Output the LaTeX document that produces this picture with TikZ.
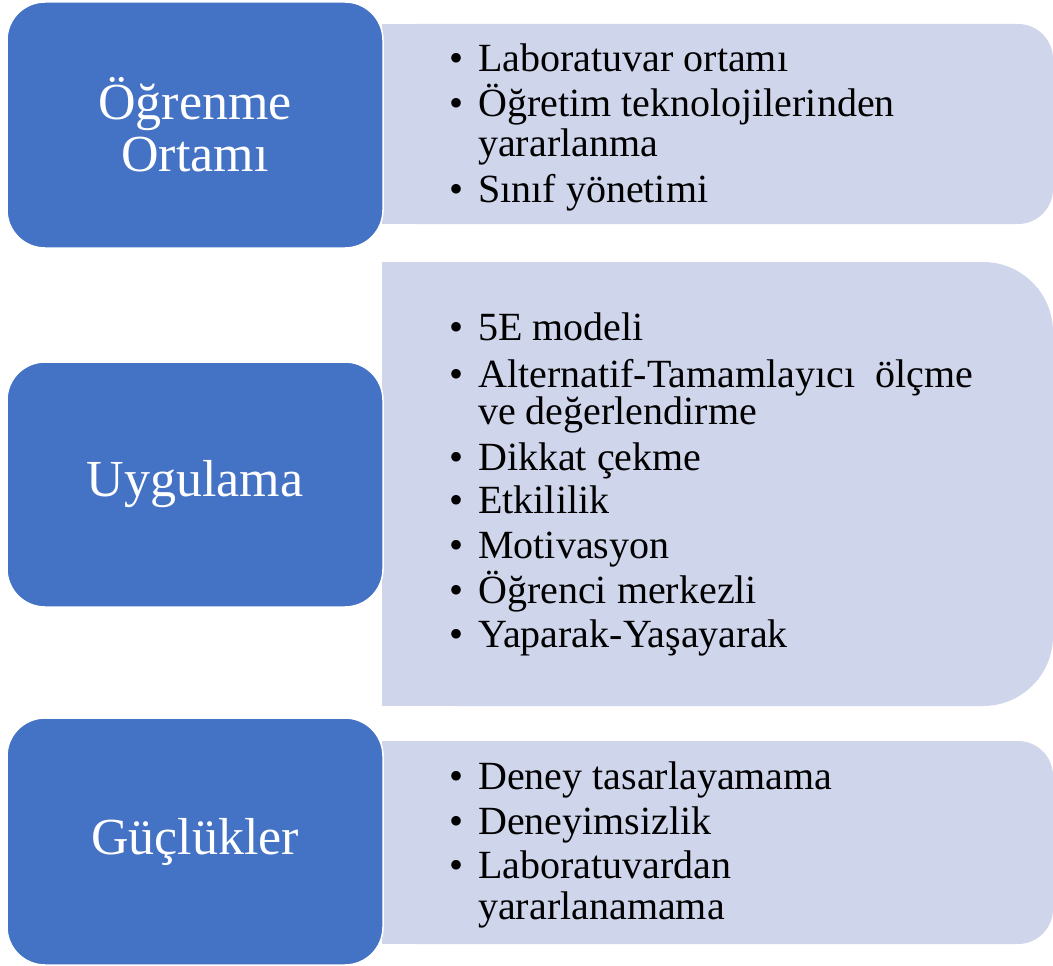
\documentclass[tikz,border=0pt]{standalone}
\usepackage{fontspec}
\setmainfont{Liberation Serif}
\definecolor{boxblue}{HTML}{4472C4}
\definecolor{boxgray}{HTML}{CFD5EA}
\tikzset{
  headbox/.style={fill=boxblue, draw=white, line width=1.5pt, rounded corners=38pt,
    minimum width=376pt, text=white, align=center, inner sep=0pt,
    font=\fontsize{52}{52}\selectfont},
  itemline/.style={anchor=base west, inner sep=0pt, text=black,
    font=\fontsize{40}{40}\selectfont},
  bul/.style={anchor=base west, inner sep=0pt, text=black,
    font=\fontsize{40}{40}\selectfont}
}
\begin{document}
\begin{tikzpicture}[x=1pt,y=-1pt]
\useasboundingbox (0,0) rectangle (1053,966);
% gray panels (square left side, rounded right side)
\fill[boxgray, rounded corners=35pt] (382,24) rectangle (1053,224);
\fill[boxgray] (382,24) rectangle (500,224);
\fill[boxgray, rounded corners=70pt] (382,262) rectangle (1053,706);
\fill[boxgray] (382,262) rectangle (500,706);
\fill[boxgray, rounded corners=35pt] (382,741) rectangle (1053,944);
\fill[boxgray] (382,741) rectangle (500,944);
% blue heads
\node[headbox, minimum height=246pt] (h1) at (195,125) {Öğrenme\\Ortamı};
\node[headbox, minimum height=245pt] (h2) at (195,484.5) {Uygulama};
\node[headbox, minimum height=247pt] (h3) at (195,841.5) {Güçlükler};
% items panel 1
\node[bul] (b1a) at (449,72) {•};
\node[itemline] (t1a) at (478,72) {Laboratuvar ortamı};
\node[bul] (b1b) at (449,117) {•};
\node[itemline] (t1b) at (478,117) {Öğretim teknolojilerinden};
\node[itemline] (t1c) at (478,157) {yararlanma};
\node[bul] (b1d) at (449,202) {•};
\node[itemline] (t1d) at (478,202) {Sınıf yönetimi};
% items panel 2
\node[bul] (b2a) at (449,340) {•};
\node[itemline] (t2a) at (478,340) {5E modeli};
\node[bul] (b2b) at (449,387) {•};
\node[itemline] (t2b) at (478,387) {Alternatif-Tamamlayıcı\ \ ölçme};
\node[itemline] (t2c) at (478,424) {ve değerlendirme};
\node[bul] (b2d) at (449,470) {•};
\node[itemline] (t2d) at (478,470) {Dikkat çekme};
\node[bul] (b2e) at (449,513) {•};
\node[itemline] (t2e) at (478,513) {Etkililik};
\node[bul] (b2f) at (449,558) {•};
\node[itemline] (t2f) at (478,558) {Motivasyon};
\node[bul] (b2g) at (449,603) {•};
\node[itemline] (t2g) at (478,603) {Öğrenci merkezli};
\node[bul] (b2h) at (449,647) {•};
\node[itemline] (t2h) at (478,647) {Yaparak-Yaşayarak};
% items panel 3
\node[bul] (b3a) at (449,789) {•};
\node[itemline] (t3a) at (478,789) {Deney tasarlayamama};
\node[bul] (b3b) at (449,834) {•};
\node[itemline] (t3b) at (478,834) {Deneyimsizlik};
\node[bul] (b3c) at (449,878) {•};
\node[itemline] (t3c) at (478,878) {Laboratuvardan};
\node[itemline] (t3d) at (478,919) {yararlanamama};
\end{tikzpicture}
\end{document}
